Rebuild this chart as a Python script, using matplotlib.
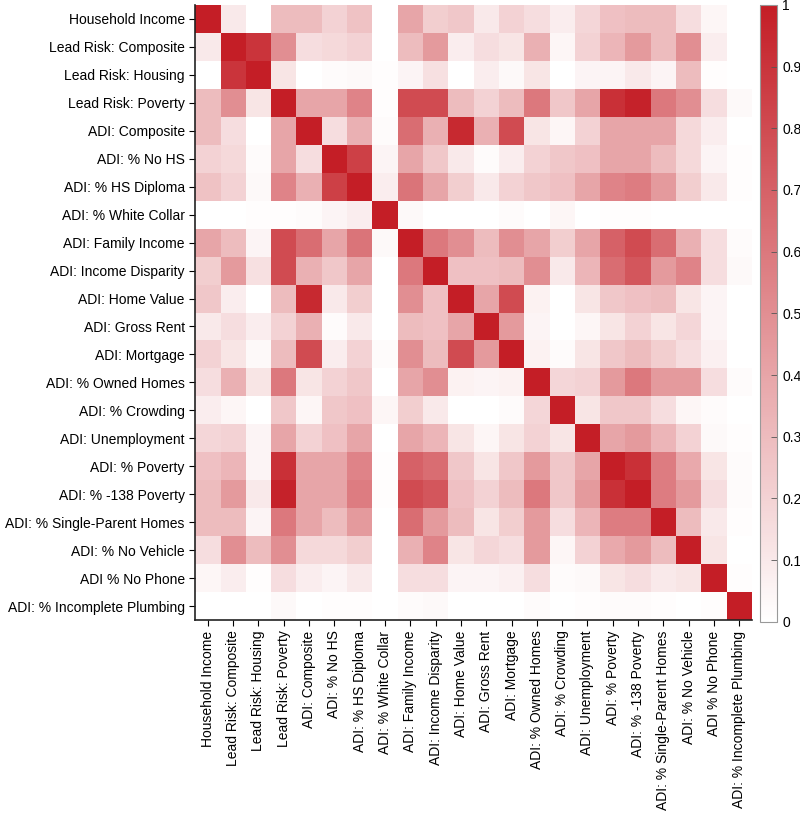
import numpy as np
import matplotlib
matplotlib.use("Agg")
import matplotlib.pyplot as plt
from matplotlib.colors import LinearSegmentedColormap

plt.rcParams['font.family'] = ['Liberation Sans', 'DejaVu Sans']

labels = [
    "Household Income", "Lead Risk: Composite", "Lead Risk: Housing",
    "Lead Risk: Poverty", "ADI: Composite", "ADI: % No HS", "ADI: % HS Diploma",
    "ADI: % White Collar", "ADI: Family Income", "ADI: Income Disparity",
    "ADI: Home Value", "ADI: Gross Rent", "ADI: Mortgage", "ADI: % Owned Homes",
    "ADI: % Crowding", "ADI: Unemployment", "ADI: % Poverty", "ADI: % -138 Poverty",
    "ADI: % Single-Parent Homes", "ADI: % No Vehicle", "ADI % No Phone",
    "ADI: % Incomplete Plumbing",
]

# lower triangle of the correlation matrix (row i holds columns 0..i)
lower = [
    [1],
    [0.10, 1],
    [0.00, 0.90, 1],
    [0.30, 0.50, 0.12, 1],
    [0.30, 0.15, 0.00, 0.40, 1],
    [0.20, 0.17, 0.02, 0.40, 0.15, 1],
    [0.27, 0.20, 0.03, 0.55, 0.35, 0.85, 1],
    [0.00, 0.00, 0.01, 0.01, 0.02, 0.05, 0.08, 1],
    [0.40, 0.30, 0.05, 0.80, 0.65, 0.40, 0.62, 0.03, 1],
    [0.22, 0.45, 0.14, 0.80, 0.35, 0.25, 0.40, 0.00, 0.60, 1],
    [0.25, 0.08, 0.00, 0.30, 0.95, 0.10, 0.22, 0.00, 0.50, 0.28, 1],
    [0.10, 0.15, 0.08, 0.20, 0.35, 0.02, 0.10, 0.00, 0.30, 0.28, 0.40, 1],
    [0.20, 0.12, 0.03, 0.30, 0.80, 0.08, 0.20, 0.02, 0.50, 0.30, 0.80, 0.45, 1],
    [0.15, 0.35, 0.12, 0.60, 0.12, 0.20, 0.25, 0.00, 0.40, 0.50, 0.06, 0.05, 0.06, 1],
    [0.08, 0.04, 0.00, 0.25, 0.04, 0.25, 0.28, 0.04, 0.22, 0.10, 0.00, 0.00, 0.02, 0.18, 1],
    [0.18, 0.20, 0.05, 0.40, 0.20, 0.28, 0.40, 0.00, 0.40, 0.33, 0.12, 0.04, 0.12, 0.20, 0.12, 1],
    [0.28, 0.33, 0.05, 0.92, 0.40, 0.40, 0.55, 0.01, 0.70, 0.65, 0.25, 0.12, 0.25, 0.45, 0.25, 0.40, 1],
    [0.30, 0.45, 0.10, 0.98, 0.40, 0.40, 0.58, 0.01, 0.80, 0.75, 0.28, 0.20, 0.30, 0.60, 0.25, 0.45, 0.92, 1],
    [0.30, 0.30, 0.05, 0.60, 0.40, 0.30, 0.45, 0.00, 0.65, 0.45, 0.30, 0.12, 0.22, 0.45, 0.15, 0.33, 0.58, 0.58, 1],
    [0.15, 0.50, 0.30, 0.50, 0.17, 0.17, 0.22, 0.00, 0.35, 0.55, 0.12, 0.18, 0.15, 0.45, 0.04, 0.20, 0.38, 0.45, 0.30, 1],
    [0.04, 0.08, 0.01, 0.15, 0.08, 0.05, 0.10, 0.00, 0.15, 0.15, 0.05, 0.05, 0.07, 0.15, 0.02, 0.03, 0.12, 0.15, 0.10, 0.12, 1],
    [0.00, 0.00, 0.00, 0.03, 0.00, 0.01, 0.01, 0.00, 0.02, 0.03, 0.00, 0.00, 0.00, 0.02, 0.00, 0.01, 0.02, 0.02, 0.01, 0.00, 0.01, 1],
]

n = len(labels)
corr = np.zeros((n, n))
for i, row in enumerate(lower):
    for j, v in enumerate(row):
        corr[i, j] = v
        corr[j, i] = v

cmap = LinearSegmentedColormap.from_list("wr", ["#FFFFFF", "#C41E26"])

fig = plt.figure(figsize=(8, 8.17), dpi=100)
ax = fig.add_axes([0.244, 0.241, 0.696, 0.753])
mesh = ax.pcolormesh(corr, cmap=cmap, vmin=0, vmax=1)
ax.set_xlim(0, n)
ax.set_ylim(n, 0)
ax.set_xticks(np.arange(n) + 0.5)
ax.set_yticks(np.arange(n) + 0.5)
ax.set_xticklabels(labels, rotation=90, fontsize=10)
ax.set_yticklabels(labels, fontsize=10)
ax.tick_params(length=4, width=0.8, color='black')
for s in ['top', 'right']:
    ax.spines[s].set_visible(False)
for s in ['left', 'bottom']:
    ax.spines[s].set_color('#222222')
    ax.spines[s].set_linewidth(1.2)

cax = fig.add_axes([0.95, 0.239, 0.0215, 0.755])
cb = fig.colorbar(mesh, cax=cax, ticks=np.linspace(0, 1, 11))
cb.ax.set_yticklabels(["0", "0.1", "0.2", "0.3", "0.4", "0.5", "0.6", "0.7", "0.8", "0.9", "1"])
cb.ax.tick_params(labelsize=10, length=4, width=0.6, color='#555555', direction='in')
cb.outline.set_edgecolor('#999999')
cb.outline.set_linewidth(0.8)

fig.savefig("out.png", dpi=100)
